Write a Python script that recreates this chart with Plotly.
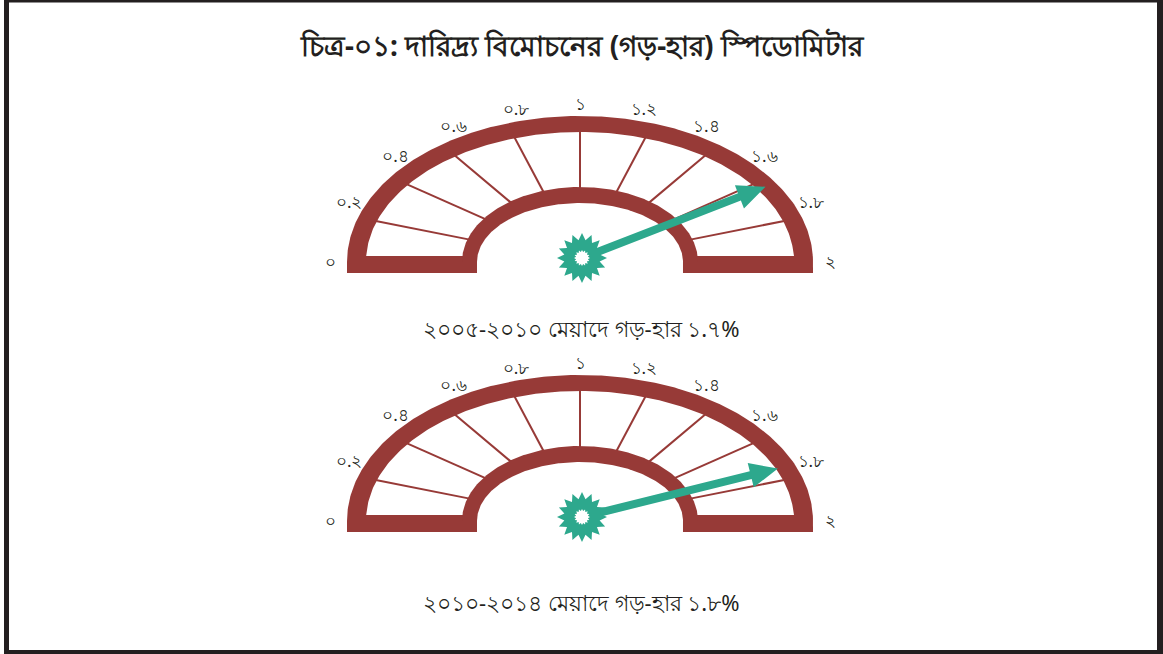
import numpy as np
import plotly.graph_objects as go

# ---------------- data ----------------
TITLE = "চিত্র-০১: দারিদ্র্য বিমোচনের (গড়-হার) স্পিডোমিটার"
periods = ["২০০৫-২০১০", "২০১০-২০১৪"]
rates = [1.7, 1.8]
rate_labels = ["১.৭%", "১.৮%"]
caption_mid = "মেয়াদে গড়-হার"
tick_values = [0.0, 0.2, 0.4, 0.6, 0.8, 1.0, 1.2, 1.4, 1.6, 1.8, 2.0]
tick_labels = ["০", "০.২", "০.৪", "০.৬", "০.৮", "১", "১.২", "১.৪", "১.৬", "১.৮", "২"]
scale_min, scale_max = 0.0, 2.0

# ---------------- style / layout ----------------
W, H = 1163, 654
MAROON = "#973a37"
TEAL = "#2da88d"
INK = "#231f20"
FONT = "Noto Sans, DejaVu Sans, sans-serif"

gauge_cx = 580
gauge_cy = [262, 521]
caption_y = [328, 602]
title_y = 45


def ang(v):
    return np.pi * (1 - (v - scale_min) / (scale_max - scale_min))


def label_ang(v, a, b):
    t = ang(v)
    tp = np.arctan2(a * np.sin(t), b * np.cos(t))
    return 0.5 * (t + tp)


def arc(cx, cy, a, b, n=241):
    t = np.linspace(np.pi, 0, n)
    return cx + a * np.cos(t), cy - b * np.sin(t)


def poly(xs, ys, color):
    return go.Scatter(x=list(xs), y=list(ys), mode="lines", fill="toself",
                      fillcolor=color, line=dict(width=0, color=color),
                      hoverinfo="skip", showlegend=False)


fig = go.Figure()
annotations = []

for gi, cy in enumerate(gauge_cy):
    cx = gauge_cx
    bottom = cy + 11
    band_top = cy - 6
    # outer maroon body
    x, y = arc(cx, cy, 233, 146)
    xs = np.concatenate([x, [cx + 233, cx - 233]])
    ys = np.concatenate([y, [bottom, bottom]])
    fig.add_trace(poly(xs, ys, MAROON))
    # white field
    x, y = arc(cx, cy, 214, 130)
    y = np.minimum(y, band_top)
    fig.add_trace(poly(x, y, "white"))
    # tick lines
    lx, ly = [], []
    for v in tick_values[1:-1]:
        t = ang(v)
        lx += [cx + 220 * np.cos(t), cx + 112 * np.cos(t), None]
        ly += [cy - 136 * np.sin(t), cy - 70 * np.sin(t), None]
    fig.add_trace(go.Scatter(x=lx, y=ly, mode="lines",
                             line=dict(color=MAROON, width=2),
                             hoverinfo="skip", showlegend=False))
    # inner maroon ring
    x, y = arc(cx, cy, 118, 75)
    xs = np.concatenate([x, [cx + 118, cx - 118]])
    ys = np.concatenate([y, [bottom, bottom]])
    fig.add_trace(poly(xs, ys, MAROON))
    x, y = arc(cx, cy, 103, 59)
    xs = np.concatenate([x, [cx + 103, cx - 103]])
    ys = np.concatenate([y, [bottom + 1, bottom + 1]])
    fig.add_trace(poly(xs, ys, "white"))

    # tick labels
    tx, ty = [], []
    for v in tick_values:
        t = label_ang(v, 250, 158)
        tx.append(cx + 250 * np.cos(t))
        ty.append(cy + 2 - 158 * np.sin(t))
    fig.add_trace(go.Scatter(x=tx, y=ty, mode="text", text=tick_labels,
                             textfont=dict(family=FONT, size=17, color=INK),
                             textposition="middle center",
                             hoverinfo="skip", showlegend=False))

    # needle
    hx, hy = cx + 2, cy - 4
    t = ang(rates[gi])
    tipx, tipy = hx + 206 * np.cos(t), hy - 157 * np.sin(t)
    ux, uy = tipx - hx, tipy - hy
    L = np.hypot(ux, uy)
    ux, uy = ux / L, uy / L
    nx, ny = -uy, ux
    bx, by = tipx - 28 * ux, tipy - 28 * uy
    sw, hw = 4.0, 12.5
    px = [hx + nx * sw, bx + nx * sw, bx + nx * hw, tipx, bx - nx * hw, bx - nx * sw, hx - nx * sw]
    py = [hy + ny * sw, by + ny * sw, by + ny * hw, tipy, by - ny * hw, by - ny * sw, hy - ny * sw]
    fig.add_trace(poly(px, py, TEAL))
    # star hub
    k = np.arange(32)
    r = np.where(k % 2 == 0, 25, 18)
    a_ = k * np.pi / 16 + np.pi / 2
    fig.add_trace(poly(hx + r * np.cos(a_), hy - r * np.sin(a_), TEAL))
    r2 = np.where(k % 2 == 0, 8, 6)
    fig.add_trace(poly(hx + r2 * np.cos(a_), hy - r2 * np.sin(a_), "white"))

    # caption
    annotations.append(dict(x=581, y=caption_y[gi], xref="x", yref="y",
                            text=f"{periods[gi]} {caption_mid} {rate_labels[gi]}",
                            showarrow=False, font=dict(family=FONT, size=22, color=INK),
                            xanchor="center", yanchor="middle"))

annotations.append(dict(x=582, y=title_y, xref="x", yref="y", text=f"<b>{TITLE}</b>",
                        showarrow=False, font=dict(family=FONT, size=28, color=INK),
                        xanchor="center", yanchor="middle"))

# frame
shapes = [
    dict(type="rect", xref="x", yref="y", x0=4, x1=9, y0=0, y1=654, fillcolor=INK, line_width=0),
    dict(type="rect", xref="x", yref="y", x0=1157, x1=1163, y0=0, y1=654, fillcolor=INK, line_width=0),
    dict(type="rect", xref="x", yref="y", x0=4, x1=1163, y0=0, y1=2.5, fillcolor=INK, line_width=0),
    dict(type="rect", xref="x", yref="y", x0=4, x1=1163, y0=650, y1=654, fillcolor=INK, line_width=0),
]

fig.update_layout(
    width=W, height=H,
    margin=dict(l=0, r=0, t=0, b=0),
    paper_bgcolor="white", plot_bgcolor="white",
    xaxis=dict(range=[0, W], visible=False, fixedrange=True),
    yaxis=dict(range=[H, 0], visible=False, fixedrange=True),
    annotations=annotations, shapes=shapes, showlegend=False,
)

fig.write_html("out.html", config={"displayModeBar": False},
               post_script="document.body.style.margin='0';document.body.style.overflow='hidden';")
